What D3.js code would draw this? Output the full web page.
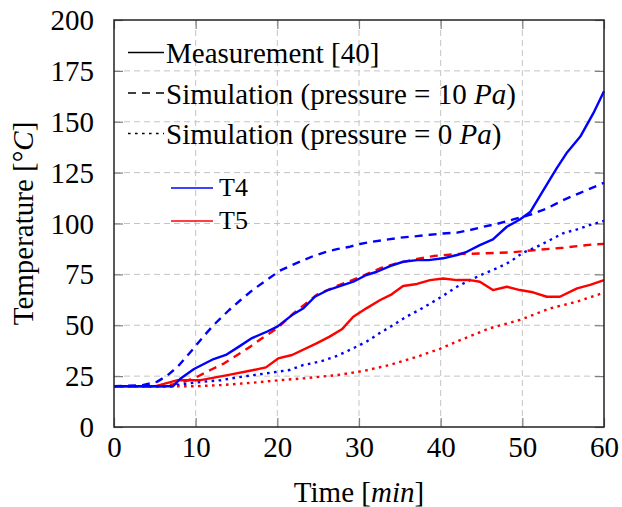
<!DOCTYPE html>
<html>
<head>
<meta charset="utf-8">
<script src="https://cdn.jsdelivr.net/npm/d3@7"></script>
<style>
  body { margin: 0; background: #fff; }
  svg text { font-family: "Liberation Serif", "Times New Roman", Times, "DejaVu Serif", serif !important; fill: #000; }
</style>
</head>
<body>
<div id="chart"></div>
<script>
// Measurement T4
const t4MeasTime = [0, 7.2, 8.2, 9.8, 12.2, 13.7, 15.3, 16.9, 18.7, 20, 21.8, 23.2, 24.6, 26.2, 29.3, 30.9, 32.2, 33.8, 35.4, 37.1, 38.5, 40.3, 42, 43.2, 44.8, 46.4, 48.1, 49.7, 51, 52.6, 54.2, 55.4, 57.1, 58.7, 60];
const t4MeasTemp = [20, 20, 24, 28.5, 33.4, 35.4, 39.5, 43.7, 46.8, 49.3, 55, 58.4, 64, 67.3, 71.4, 74.7, 76.3, 79.1, 81.2, 82, 82, 82.9, 84.5, 86.1, 89.4, 92.2, 98.4, 102, 105.8, 116.5, 127.1, 134.5, 142.7, 154.2, 165];
// Measurement T5
const t5MeasTime = [0, 5, 7.8, 10.6, 13.9, 17.1, 18.6, 20.1, 21.8, 24.8, 26.4, 27.9, 29.3, 30.9, 32.6, 34, 35.4, 37.1, 38.7, 40.3, 42, 43.6, 44.8, 46.4, 48.1, 49.7, 51.3, 53, 54.6, 56.7, 58.3, 60];
const t5MeasTemp = [20, 20, 23, 23, 25.5, 28, 29.3, 33.7, 35.4, 41.1, 44.4, 48, 54.2, 58.3, 62.4, 65.2, 69.3, 70.3, 72.2, 73, 72.2, 72.2, 71.4, 67.3, 68.9, 67.3, 66.2, 64, 64, 68.1, 69.8, 72.2];
// Simulation 10 Pa
const t4Sim10Time = [0, 3.5, 5.3, 6.5, 7.8, 9.4, 11, 12.2, 14.1, 15.5, 17.1, 18.8, 20.3, 21.8, 23.2, 24.4, 26, 27.3, 28.9, 30.1, 31.7, 33.6, 35.4, 37.1, 38.7, 40, 42, 43.6, 45.2, 46.9, 48.9, 50.9, 53, 55, 57.1, 60];
const t4Sim10Temp = [20, 20.5, 22.3, 25.2, 29.6, 37, 44.7, 50.1, 57.5, 62.4, 67.7, 72.5, 76.8, 79.6, 82, 84, 86.1, 87.4, 88.6, 89.9, 91.1, 92.2, 93.2, 93.8, 94.5, 95, 95.5, 96.8, 98.4, 99.8, 102, 104.2, 107.4, 111.5, 115.1, 120];
const t5Sim10Time = [0, 6, 7.3, 8.6, 10.2, 11.8, 13.5, 15.1, 16.7, 18.4, 20, 22, 24.8, 27.3, 29.7, 32.6, 34.6, 37.1, 39.1, 42, 45.2, 48.5, 51.8, 55, 58.6, 60];
const t5Sim10Temp = [20, 20, 21, 22.3, 24.7, 28, 31.3, 35.4, 39.5, 44.4, 48.5, 55.9, 64.9, 69.3, 73, 78, 80.4, 82.6, 84, 85, 85.3, 85.8, 87, 88.1, 89.7, 90];
// Simulation 0 Pa
const t4Sim0Time = [0, 7, 8.2, 11, 13.1, 15.1, 17.1, 19.2, 21.5, 23.2, 25.2, 27.3, 29.3, 30.9, 32.6, 34.2, 35.8, 37.5, 39.9, 42, 43.6, 45.2, 46.9, 48.5, 50.1, 51.8, 53.4, 55, 56.7, 58.3, 60];
const t4Sim0Temp = [20, 20, 21, 22.3, 23, 24.4, 25.5, 26.7, 28, 30.5, 32.1, 34.9, 38.7, 41.9, 46.3, 50.1, 54.2, 57.8, 63.5, 68.9, 72.2, 75.2, 78, 81.2, 85.7, 88.6, 91.9, 95.2, 97.1, 99.3, 101.3];
const t5Sim0Time = [0, 9.8, 13.1, 17.1, 20.3, 23.2, 27.3, 30.5, 33.8, 37.1, 39.9, 42.4, 46, 49.7, 53.4, 56.7, 60];
const t5Sim0Temp = [20, 20, 20.6, 21.8, 23, 23.9, 25.5, 27.5, 30.5, 34.5, 38.4, 42.7, 48.5, 52.6, 58.3, 61.6, 66];

const xTicks = [0, 10, 20, 30, 40, 50, 60];
const yTicks = [0, 25, 50, 75, 100, 125, 150, 175, 200];

const width = 622, height = 507;
const margin = {top: 20, right: 18, bottom: 80, left: 114};
const w = width - margin.left - margin.right,
      h = height - margin.top - margin.bottom;

const serif = "'Liberation Serif', 'Times New Roman', Times, 'DejaVu Serif', serif";
const blue = "#0000ff", red = "#ff0000";
const styles = {
  solid: null,
  dashed: "8,6",
  dotted: "2.6,4.4"
};

const series = [
  {time: t4Sim10Time, temp: t4Sim10Temp, color: blue, dash: "dashed"},
  {time: t5Sim10Time, temp: t5Sim10Temp, color: red, dash: "dashed"},
  {time: t4Sim0Time, temp: t4Sim0Temp, color: blue, dash: "dotted"},
  {time: t5Sim0Time, temp: t5Sim0Temp, color: red, dash: "dotted"},
  {time: t5MeasTime, temp: t5MeasTemp, color: red, dash: "solid"},
  {time: t4MeasTime, temp: t4MeasTemp, color: blue, dash: "solid"}
];

const svg = d3.select("#chart").append("svg")
  .attr("width", width)
  .attr("height", height)
  .attr("font-family", serif);

const g = svg.append("g")
  .attr("transform", `translate(${margin.left},${margin.top})`);

const x = d3.scaleLinear().domain([0, 60]).range([0, w]);
const y = d3.scaleLinear().domain([0, 200]).range([h, 0]);

// grid
g.append("g").selectAll("line")
  .data(xTicks.slice(1, -1))
  .enter().append("line")
  .attr("x1", d => x(d)).attr("x2", d => x(d))
  .attr("y1", 0).attr("y2", h)
  .attr("stroke", "#c4c4c4").attr("stroke-width", 1)
  .attr("stroke-dasharray", "6,4");

g.append("g").selectAll("line")
  .data(yTicks.slice(1, -1))
  .enter().append("line")
  .attr("x1", 0).attr("x2", w)
  .attr("y1", d => y(d)).attr("y2", d => y(d))
  .attr("stroke", "#c4c4c4").attr("stroke-width", 1)
  .attr("stroke-dasharray", "6,4");

// axes (inner ticks on all sides)
const tickLen = 9;
const xAxis = g.append("g")
  .attr("transform", `translate(0,${h})`)
  .call(d3.axisBottom(x).tickValues(xTicks).tickSize(-tickLen).tickPadding(tickLen + 12));
const yAxis = g.append("g")
  .call(d3.axisLeft(y).tickValues(yTicks).tickSize(-tickLen).tickPadding(tickLen + 11));
g.append("g")
  .call(d3.axisTop(x).tickValues(xTicks).tickSize(-tickLen).tickFormat(""));
g.append("g")
  .attr("transform", `translate(${w},0)`)
  .call(d3.axisRight(y).tickValues(yTicks).tickSize(-tickLen).tickFormat(""));

g.selectAll(".domain").remove();
g.selectAll("g").attr("font-family", serif);
g.selectAll(".tick line").attr("stroke", "#808080").attr("stroke-width", 1.2);
g.selectAll(".tick text")
  .attr("font-family", serif)
  .attr("font-size", 29)
  .attr("fill", "#000");
xAxis.selectAll(".tick text").attr("dy", "0.71em").attr("y", 9);
yAxis.selectAll(".tick text").attr("dy", "0.33em");

// lines
const line = d3.line()
  .x(d => x(d[0]))
  .y(d => y(d[1]));

g.append("g").selectAll("path")
  .data(series)
  .enter().append("path")
  .attr("d", s => line(d3.zip(s.time, s.temp)))
  .attr("fill", "none")
  .attr("stroke", s => s.color)
  .attr("stroke-width", 2.4)
  .attr("stroke-linejoin", "round")
  .attr("stroke-dasharray", s => styles[s.dash]);

// frame
g.append("rect")
  .attr("x", 0).attr("y", 0)
  .attr("width", w).attr("height", h)
  .attr("fill", "none")
  .attr("stroke", "#222")
  .attr("stroke-width", 1.5);

// style legend
const legendRows = [
  {dash: "solid", parts: [["Measurement [40]", "normal"]]},
  {dash: "dashed", parts: [["Simulation (pressure = 10 ", "normal"], ["Pa", "italic"], [")", "normal"]]},
  {dash: "dotted", parts: [["Simulation (pressure = 0 ", "normal"], ["Pa", "italic"], [")", "normal"]]}
];

const leg = svg.append("g");
legendRows.forEach((r, i) => {
  const by = 63 + i * 40.5;
  leg.append("line")
    .attr("x1", 128).attr("x2", 164)
    .attr("y1", by - 10.5).attr("y2", by - 10.5)
    .attr("stroke", "#000").attr("stroke-width", 1.6)
    .attr("stroke-dasharray", styles[r.dash]);
  const t = leg.append("text")
    .attr("x", 166).attr("y", by)
    .attr("font-family", serif)
    .attr("font-size", 29);
  r.parts.forEach(p => t.append("tspan").attr("font-style", p[1]).text(p[0]));
});

// color legend
const colorRows = [["T4", blue], ["T5", red]];
colorRows.forEach((r, i) => {
  const by = 196 + i * 33;
  leg.append("line")
    .attr("x1", 171).attr("x2", 213)
    .attr("y1", by - 8).attr("y2", by - 8)
    .attr("stroke", r[1]).attr("stroke-width", 1.6);
  leg.append("text")
    .attr("x", 219).attr("y", by)
    .attr("font-family", serif)
    .attr("font-size", 26)
    .text(r[0]);
});

// axis labels
const xl = svg.append("text")
  .attr("x", margin.left + w / 2).attr("y", 502)
  .attr("text-anchor", "middle")
  .attr("font-family", serif)
  .attr("font-size", 29);
xl.append("tspan").text("Time [");
xl.append("tspan").attr("font-style", "italic").text("min");
xl.append("tspan").text("]");

const yl = svg.append("text")
  .attr("transform", `translate(33,${margin.top + h / 2}) rotate(-90)`)
  .attr("text-anchor", "middle")
  .attr("font-family", serif)
  .attr("font-size", 29);
yl.append("tspan").text("Temperature [°");
yl.append("tspan").attr("font-style", "italic").text("C");
yl.append("tspan").text("]");
</script>
</body>
</html>
